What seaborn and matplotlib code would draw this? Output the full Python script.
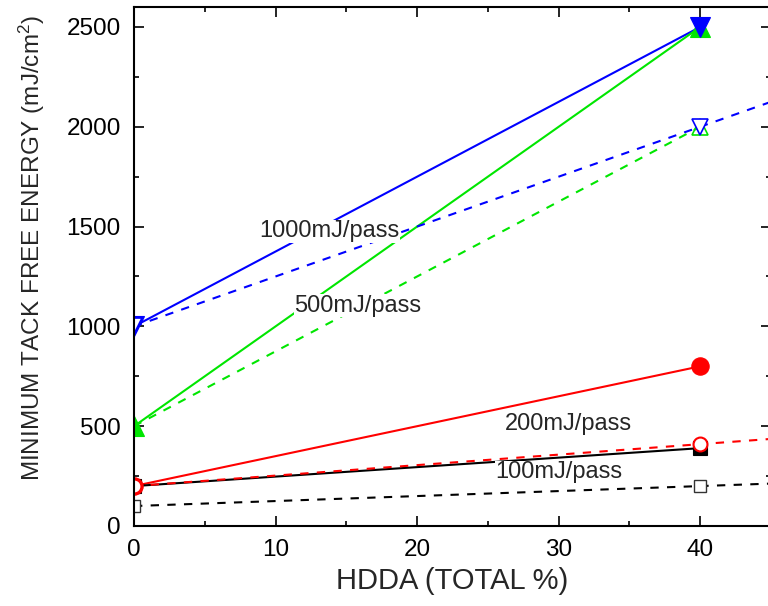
import matplotlib
matplotlib.use("Agg")
import matplotlib.pyplot as plt
import seaborn as sns
import numpy as np
from matplotlib.ticker import MultipleLocator

# ---------------- data ----------------
hdda = [0, 40]
e1000_solid = [1000, 2500]
e1000_dash = [1000, 2000]
e500_solid = [500, 2500]
e500_dash = [500, 2000]
e200_solid = [200, 800]
e200_dash = [200, 410]
e100_solid = [200, 390]
e100_dash = [100, 200]
series_labels = ["1000mJ/pass", "500mJ/pass", "200mJ/pass", "100mJ/pass"]
x_ticks = [0, 10, 20, 30, 40]
y_ticks = [0, 500, 1000, 1500, 2000, 2500]

# ---------------- style ----------------
sns.set_style("white")
plt.rcParams["font.family"] = ["Liberation Sans", "DejaVu Sans"]
plt.rcParams["mathtext.fontset"] = "custom"
plt.rcParams["mathtext.rm"] = "Liberation Sans"
plt.rcParams["mathtext.it"] = "Liberation Sans:italic"

BLUE = "#0000ff"
GREEN = "#00e600"
RED = "#ff0000"
BLACK = "#000000"
LW = 1.5
DASH = (4, 4)

fig = plt.figure(figsize=(7.68, 6.06), dpi=100)
ax = fig.add_axes([134 / 768, 80 / 606, 637 / 768, 519 / 606])
ax.set_xlim(0, 45)
ax.set_ylim(0, 2600)

# solid lines (0 -> 40)
for yv, c in [(e1000_solid, BLUE), (e500_solid, GREEN), (e200_solid, RED), (e100_solid, BLACK)]:
    sns.lineplot(x=hdda, y=yv, color=c, lw=LW, ax=ax, zorder=2)

# dashed green line (0 -> 40 only)
sns.lineplot(x=hdda, y=e500_dash, color=GREEN, lw=LW, ax=ax, zorder=2, dashes=False,
             linestyle=(0, DASH))
# dashed fit lines extended to the axis limit
for yv, c in [(e1000_dash, BLUE), (e200_dash, RED), (e100_dash, BLACK)]:
    sns.regplot(x=hdda, y=yv, scatter=False, ci=None, truncate=False, ax=ax,
                line_kws=dict(color=c, lw=LW, linestyle=(0, DASH), zorder=2))


def markers(yv, mk, ms, fc, ec, mew, z):
    sns.lineplot(x=hdda, y=yv, ax=ax, color=ec, linestyle="none", marker=mk,
                 markersize=ms, markerfacecolor=fc, markeredgecolor=ec,
                 markeredgewidth=mew, zorder=z, clip_on=True)


# filled markers for solid series
markers(e100_solid, "s", 9.5, BLACK, BLACK, 0.8, 3)
markers(e200_solid, "o", 12.5, RED, RED, 0.8, 3)
markers(e500_solid, "^", 14, GREEN, GREEN, 0.8, 3)
markers(e1000_solid, "v", 14, BLUE, BLUE, 0.8, 3)
# open markers for dashed series
markers(e100_dash, "s", 9, "white", "#333333", 1.0, 4)
markers(e200_dash, "o", 10, "white", RED, 1.5, 4)
markers(e500_dash, "^", 11.5, "none", GREEN, 1.2, 4)
markers(e1000_dash, "v", 11.5, "white", BLUE, 1.2, 4)

# labels
label_pos = [(13.8, 1476), (15.8, 1103), (30.7, 511), (30.0, 270)]
for txt, (lx, ly) in zip(series_labels, label_pos):
    ax.text(lx, ly, txt, ha="center", va="center", fontsize=17, zorder=5,
            bbox=dict(facecolor="white", edgecolor="none", pad=0.3))

# axes, ticks
ax.set_xticks(x_ticks)
ax.set_yticks(y_ticks)
ax.xaxis.set_minor_locator(MultipleLocator(5))
ax.yaxis.set_minor_locator(MultipleLocator(250))
ax.tick_params(which="both", direction="in", top=True, right=True, bottom=True, left=True,
               width=1.2, colors="black")
ax.tick_params(which="major", length=7, pad=9.5, labelsize=17.5)
ax.tick_params(which="minor", length=3.5)
for sp in ax.spines.values():
    sp.set_visible(True)
    sp.set_linewidth(1.5)
    sp.set_color("black")
    sp.set_zorder(6)

ax.set_xlabel("HDDA (TOTAL %)", fontsize=21)
ax.set_ylabel(r"MINIMUM TACK FREE ENERGY (mJ/cm$^{\mathrm{2}}$)", fontsize=17.5)
ax.yaxis.set_label_coords(-0.137, 0.535)

fig.savefig("out.png", dpi=100)
